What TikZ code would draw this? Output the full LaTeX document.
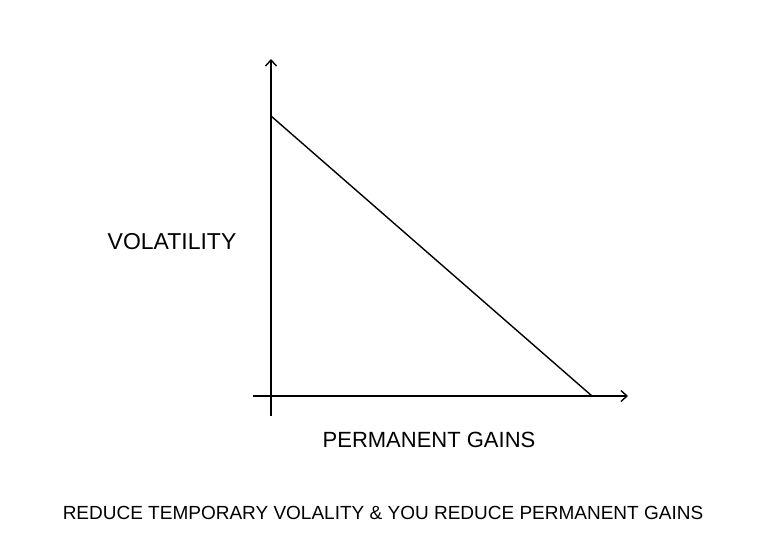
\documentclass[tikz,border=0pt]{standalone}
\usepackage{fontspec}
\setmainfont{Liberation Sans}
\usepackage{tikz}
\usetikzlibrary{calc,arrows.meta}

\begin{document}
\begin{tikzpicture}[x=1pt,y=-1pt,line width=1.4pt,>={Straight Barb[length=6pt,width=11pt]}]
		\useasboundingbox (0,0) rectangle (768,558);
	 	\coordinate (o) at (271,396);
	 	\coordinate (ytop) at (271,59);
	 	\coordinate (ybot) at (271,416);
	 	\coordinate (xleft) at (253,396);
	 	\coordinate (xright) at (628,396);
	 	\coordinate (a) at (271,116);
	 	\coordinate (b) at (592,396);
	 	\node[font=\fontsize{23}{23}\selectfont] (vol) at (172,242) {VOLATILITY};
	 	\node[font=\fontsize{22}{22}\selectfont] (gains) at (429,440) {PERMANENT GAINS};
	 	\node[font=\fontsize{19}{19}\selectfont] (title) at (383,513) {REDUCE TEMPORARY VOLALITY \& YOU REDUCE PERMANENT GAINS};
	 	\draw[->] (ybot) -- (ytop);
	 	\draw[->] (xleft) -- (xright);
	 	\draw (a) -- (b);
	 	\end{tikzpicture}
\end{document}
